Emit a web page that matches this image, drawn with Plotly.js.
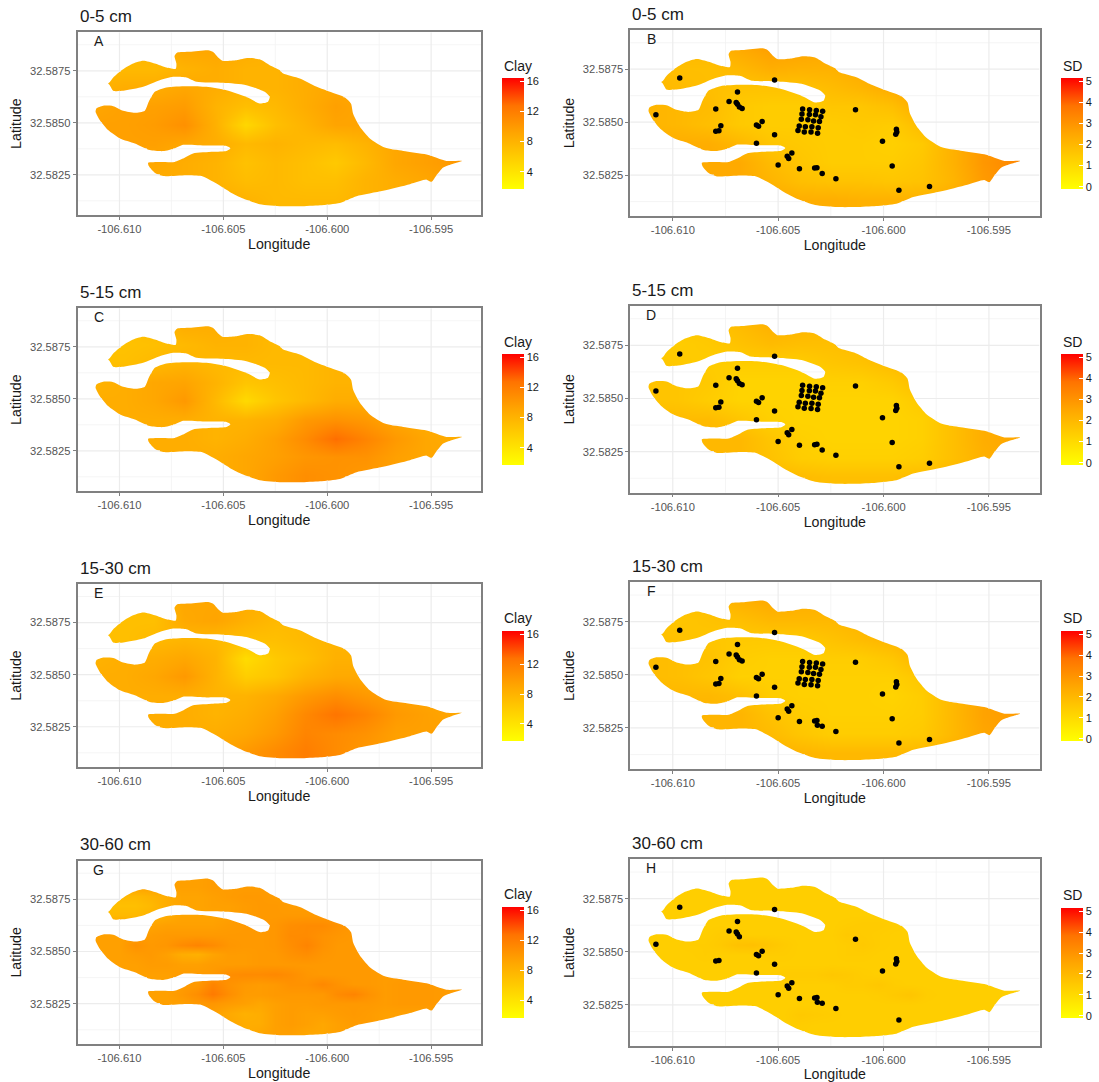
<!DOCTYPE html>
<html>
<head>
<meta charset="utf-8">
<script src="https://cdn.plot.ly/plotly-3.0.1.min.js"></script>
<style>html,body{margin:0;padding:0;background:#fff}</style>
</head>
<body>
<div id="chart" style="width:1099px;height:1082px"></div>
<script>
const xTickVals = [-106.610, -106.605, -106.600, -106.595];
const xTickText = ['-106.610', '-106.605', '-106.600', '-106.595'];
const yTickVals = [32.5825, 32.5850, 32.5875];
const yTickText = ['32.5825', '32.5850', '32.5875'];
const xMinor = [-106.6075, -106.6025, -106.5975];
const yMinor = [32.58125, 32.58375, 32.58625, 32.58875];
const xRange = [-106.61202, -106.5926];
const yRange = [32.58057, 32.58935];

const outlineLon = [-106.61055,-106.61030,-106.60990,-106.60942,-106.60886,-106.60830,-106.60774,-106.60729,-106.60726,-106.60735,-106.60723,-106.60662,-106.60573,-106.60549,-106.60525,-106.60504,-106.60437,-106.60381,-106.60325,-106.60277,-106.60228,-106.60212,-106.60132,-106.60067,-106.59987,-106.59915,-106.59886,-106.59875,-106.59843,-106.59795,-106.59723,-106.59634,-106.59522,-106.59426,-106.59352,-106.59402,-106.59442,-106.59474,-106.59498,-106.59522,-106.59602,-106.59731,-106.59859,-106.59939,-106.60035,-106.60132,-106.60220,-106.60325,-106.60405,-106.60469,-106.60533,-106.60605,-106.60678,-106.60790,-106.60830,-106.60859,-106.60862,-106.60806,-106.60734,-106.60694,-106.60646,-106.60549,-106.60485,-106.60466,-106.60485,-106.60581,-106.60694,-106.60734,-106.60790,-106.60854,-106.60926,-106.60998,-106.61055,-106.61095,-106.61115,-106.61111,-106.61079,-106.61030,-106.60982,-106.60926,-106.60878,-106.60859,-106.60830,-106.60774,-106.60678,-106.60581,-106.60485,-106.60389,-106.60325,-106.60285,-106.60277,-106.60301,-106.60389,-106.60501,-106.60629,-106.60678,-106.60742,-106.60806,-106.60886,-106.60982,-106.61030];
const outlineLat = [32.58689,32.58718,32.58753,32.58782,32.58798,32.58785,32.58766,32.58760,32.58785,32.58821,32.58837,32.58841,32.58849,32.58840,32.58814,32.58798,32.58801,32.58811,32.58805,32.58777,32.58753,32.58737,32.58713,32.58681,32.58649,32.58622,32.58593,32.58542,32.58481,32.58425,32.58381,32.58365,32.58348,32.58317,32.58317,32.58301,32.58285,32.58248,32.58216,32.58227,32.58205,32.58173,32.58147,32.58115,32.58104,32.58099,32.58099,32.58109,32.58136,32.58168,32.58208,32.58244,32.58248,32.58244,32.58260,32.58292,32.58308,32.58312,32.58312,32.58328,32.58353,32.58361,32.58365,32.58378,32.58389,32.58391,32.58394,32.58377,32.58364,32.58369,32.58401,32.58425,32.58465,32.58513,32.58553,32.58569,32.58582,32.58580,32.58558,32.58548,32.58558,32.58601,32.58649,32.58670,32.58676,32.58673,32.58657,32.58625,32.58593,32.58601,32.58625,32.58649,32.58681,32.58692,32.58697,32.58718,32.58721,32.58705,32.58673,32.58654,32.58654];

const coarseLon = [-106.6112,-106.60975,-106.6083,-106.60685,-106.6054,-106.60395,-106.6025,-106.60105,-106.5996,-106.59815,-106.5967,-106.59525,-106.5938];
const coarseLat = [32.5813,32.5822,32.5831,32.5840,32.5849,32.5858,32.5867,32.5876,32.5885];
const fineLon = [-106.6115,-106.61075,-106.6100,-106.60925,-106.6085,-106.60775,-106.6070,-106.60625,-106.6055,-106.60475,-106.6040,-106.60325,-106.6025,-106.60175,-106.6010,-106.60025,-106.5995,-106.59875,-106.5980,-106.59725,-106.5965,-106.59575,-106.5950,-106.59425,-106.5935];
const fineLat = [32.5811,32.58157,32.58204,32.58251,32.58298,32.58345,32.58392,32.58439,32.58486,32.58533,32.5858,32.58627,32.58674,32.58721,32.58768,32.58815,32.58862];

const clayA = [
[8.5,8.5,8.5,8.5,8.5,8,7.5,7.5,7.5,8,8.5,9,9],
[8.5,8.5,8.5,8.5,8,7.2,7.5,7,7,8,8.5,9,9.5],
[9,9,9,8.5,8,6.8,7.5,7,6.2,7.5,9,9.5,10],
[9.5,9.5,9.5,9,8.5,7.5,8,7.5,7.2,8,9,9.5,10],
[9.5,9.5,9.8,10.6,8.2,5.0,7,8,9.2,9.2,9,9,9],
[9,9.5,9.5,9.8,8,7,7.5,8.5,9.5,9,9,9,9],
[8,8.5,8.5,9,8.5,8,8,8.5,9,9,9,9,9],
[7.5,7.5,7.5,8,8.5,8,8,8.5,8.5,8.5,8.5,8.5,8.5],
[7.5,7.5,8,9,9,8.5,8,8.5,8.5,8.5,8.5,8.5,8.5]];
const clayC = [
[8.5,8.5,8.5,8.5,8.5,9,10,10.8,10.5,10,9.5,9,9],
[8.5,8.5,8.5,8.5,8.5,9,9.5,10.2,10.5,10.5,9.5,9,9],
[8.5,8.5,8.5,8.5,8,8.5,9.5,11,13,11.5,10,9,8.5],
[8.5,8.5,8.5,8.5,8,8,8.5,10,10.5,10,9,8.5,8.5],
[8.5,8.5,9,10,7.5,4.8,6.5,7.5,8.5,8.5,8.5,8.5,8.5],
[8,8.5,9,9.2,8,6.5,7,7.5,8,8,8,8,8],
[7,7,7.5,8,7.5,7.5,7.5,7.5,8,8,8,8,8],
[6.8,6.8,7,7.5,8,8,7.5,7.5,7.5,7.5,7.5,7.5,7.5],
[7,7,7.5,8.5,8.5,8,7.5,7.5,7.5,7.5,7.5,7.5,7.5]];
const clayE = [
[8.5,8.5,8.5,8.5,9,10,11,12,11,10,9.5,9,9],
[8.5,8.5,8.5,8.5,8.5,9,10,11.5,11,10.5,9.5,9.5,9.5],
[8.5,8.5,8.5,8.5,8,8.5,9.5,11.2,12.6,11.5,10,9.5,9],
[8.5,8.5,8.5,8.5,8,8,8.8,10,10.8,10,9.5,9,9],
[8.5,8.5,9,10,8,5.8,6.5,8,8.8,8.8,8.8,8.8,8.8],
[8,8.5,8.5,9,8,4.6,6.2,7,8.2,8.2,8.2,8.2,8.2],
[7,7,7.5,7.8,7.5,7,7,7.5,8,8,8,8,8],
[7,7,7,8.8,9.2,8.2,7.5,7.5,7.5,7.5,7.5,7.5,7.5],
[7,7,7.5,9,9,8.5,8,8,8,8,8,8,8]];
const sdB = [
[2.5,2.5,2.5,2.5,2.4,2.3,2.3,2.2,2.2,2.2,2.4,2.8,3.1],
[2.4,2.4,2.4,2.4,2.1,1.8,1.7,1.7,1.6,1.7,2.1,2.8,3.2],
[2.4,2.4,2.4,2.4,1.9,1.6,1.4,1.4,1.4,1.6,2.2,2.9,3.3],
[2.3,2.3,2.3,2.0,1.6,1.5,1.4,1.4,1.3,1.5,2.2,2.9,3.2],
[2.1,2.0,1.8,1.5,1.4,1.4,1.4,1.5,1.4,1.9,2.4,2.8,3.0],
[2.1,2.0,1.9,1.5,1.4,1.4,1.6,1.6,1.8,2.4,2.6,2.7,2.7],
[2.0,1.9,1.8,1.7,1.7,1.7,1.9,2.1,2.4,2.7,2.7,2.7,2.7],
[1.9,1.8,1.8,2.0,2.3,2.2,2.2,2.4,2.6,2.7,2.7,2.7,2.7],
[2.0,2.0,2.0,2.4,2.7,2.6,2.4,2.5,2.6,2.7,2.7,2.7,2.7]];
const sdD = [
[2.1,2.1,2.1,2.1,2.0,1.9,1.8,1.8,1.8,1.9,2.1,2.3,2.5],
[2.0,2.0,2.0,2.0,1.7,1.4,1.3,1.3,1.3,1.4,1.8,2.2,2.5],
[2.0,2.0,2.0,2.0,1.6,1.3,1.2,1.2,1.2,1.3,1.8,2.3,2.5],
[1.9,1.9,1.9,1.6,1.3,1.2,1.2,1.2,1.2,1.3,1.8,2.3,2.4],
[1.7,1.6,1.4,1.2,1.2,1.2,1.2,1.2,1.2,1.5,2.0,2.2,2.3],
[1.7,1.6,1.5,1.2,1.2,1.2,1.3,1.3,1.5,1.9,2.1,2.1,2.1],
[1.6,1.5,1.4,1.4,1.4,1.4,1.6,1.7,1.9,2.1,2.1,2.1,2.1],
[1.5,1.4,1.5,1.7,1.9,1.8,1.8,1.9,2.1,2.1,2.1,2.1,2.1],
[1.6,1.6,1.6,1.9,2.2,2.1,1.9,2.0,2.1,2.1,2.1,2.1,2.1]];
const sdF = [
[2.2,2.2,2.2,2.2,2.2,2.1,2.0,2.0,2.0,2.0,2.3,2.5,2.7],
[2.1,2.1,2.1,2.1,1.9,1.6,1.4,1.4,1.4,1.5,2.0,2.5,2.7],
[2.1,2.1,2.1,2.1,1.7,1.4,1.3,1.3,1.3,1.4,2.0,2.6,2.8],
[2.0,2.0,2.0,1.8,1.4,1.3,1.3,1.3,1.2,1.4,2.0,2.6,2.8],
[1.9,1.8,1.6,1.3,1.3,1.3,1.3,1.3,1.3,1.6,2.2,2.5,2.6],
[1.9,1.8,1.7,1.4,1.3,1.3,1.4,1.4,1.6,2.1,2.3,2.3,2.3],
[1.8,1.7,1.6,1.5,1.5,1.5,1.7,1.9,2.1,2.3,2.3,2.3,2.3],
[1.7,1.6,1.7,1.8,2.0,2.0,2.0,2.1,2.3,2.3,2.3,2.3,2.3],
[1.8,1.8,1.8,2.2,2.4,2.3,2.2,2.2,2.3,2.3,2.3,2.3,2.3]];
const clayG = [
[9.5,9.5,9.5,9.5,9.5,9.5,9.5,9.5,9.5,9,8.5,9,9.5,9.5,9,9,9.5,9.5,9.5,9.5,9.5,9.5,9.5,9.5,9.5],
[9.5,9.5,9.5,9.5,9.5,9.5,9.5,9.5,9.5,9,8.5,8.5,9.5,9.8,9.5,9,9.5,9.8,9.8,9.5,9.5,9.5,9.5,9.5,9.5],
[9.5,9.5,9.5,9.5,9.5,9.5,9.5,9.5,9.5,8.8,8.2,8.5,9.5,9.8,9.5,9.5,9.8,10,9.8,9.5,9.5,9.5,9.5,9.5,9.5],
[9.5,9.5,9.5,9.5,9.5,9.5,9.5,10,10.2,9.8,9.5,9,9.5,9.8,9.8,10,10,10,10,9.8,10,10,10,9.8,9.8],
[9.5,9.5,9.5,9.5,9.5,9.5,10,10.8,12.2,10.8,9.8,9.8,10,10,10,10,11,11.5,10.5,9.8,10,10,10,9.8,9.8],
[9.5,9.5,9.5,9.5,9.5,9.5,9.8,10,11.5,10.5,10,9.8,10,10.5,10.5,11.2,10.5,10,10,9.8,10,10,10,9.8,9.8],
[9.5,9.5,9.5,9.5,9.5,9.5,9.8,9.8,10,10.8,11,11,11.2,10.8,10.2,10,10,10,10,9.8,9.8,9.8,9.8,9.8,9.8],
[9.5,9.5,9.5,9.5,9.8,9.8,9.5,9.5,9.8,9.8,9.8,10,10,10,10,10,10,10,10,9.8,9.5,9.5,9.5,9.5,9.5],
[9.5,9.5,9.5,9.8,10,9.5,8.5,8.2,9.2,9.8,9.8,10,10,10.5,10.8,10.2,10,10,9.8,9.5,9.5,9.5,9.5,9.5,9.5],
[9.5,9.5,9.5,10.5,10,10.2,11,11.5,11,10.2,10,10,10.2,10.8,11.5,10.5,10,10,9.8,9.5,9.5,9.5,9.5,9.5,9.5],
[9.5,9.5,9.5,9.8,9.8,10,10,10,10,10,10,10,10.2,11,11,10.5,10.2,10,9.8,9.5,9.5,9.5,9.5,9.5,9.5],
[9.5,9.5,9.5,9,9.2,9.5,9.5,9.5,9.5,9.8,10,10,10.2,10.8,11,11,10.5,10,9.8,9.5,9.5,9.5,9.5,9.5,9.5],
[7.5,7.5,7.5,7.5,8,8.5,9.2,9.2,9.2,9.5,9.8,10,10,10,10,10,10,10,9.8,9.5,9.5,9.5,9.5,9.5,9.5],
[7,7,7,7,7.5,8.5,9.2,9.2,9.5,9.5,9.8,10,10,9.8,9.8,9.8,9.8,9.8,9.5,9.5,9.5,9.5,9.5,9.5,9.5],
[7.5,7.5,7.5,7.5,8,8.5,9.2,9.2,9.5,9.8,10,10,9.8,9.8,9.8,9.8,9.8,9.8,9.5,9.5,9.5,9.5,9.5,9.5,9.5],
[9.5,9.5,9.5,9.5,9.5,9.5,9.5,9.5,9.8,9.8,9.8,9.8,9.8,9.8,9.8,9.8,9.8,9.8,9.5,9.5,9.5,9.5,9.5,9.5,9.5],
[9.5,9.5,9.5,9.5,9.5,9.5,9.5,9.5,9.8,9.8,9.8,9.8,9.8,9.8,9.8,9.8,9.8,9.8,9.5,9.5,9.5,9.5,9.5,9.5,9.5]];
const sdH = [
[1.35,1.35,1.35,1.35,1.35,1.35,1.35,1.35,1.35,1.35,1.35,1.35,1.35,1.35,1.35,1.35,1.35,1.35,1.35,1.35,1.35,1.35,1.35,1.35,1.35],
[1.35,1.35,1.35,1.35,1.35,1.35,1.35,1.35,1.35,1.35,1.4,1.35,1.35,1.35,1.35,1.35,1.35,1.35,1.35,1.35,1.35,1.35,1.35,1.35,1.35],
[1.35,1.35,1.35,1.35,1.35,1.35,1.35,1.35,1.35,1.35,1.5,1.45,1.4,1.35,1.35,1.35,1.35,1.35,1.35,1.35,1.35,1.35,1.35,1.35,1.35],
[1.35,1.35,1.35,1.35,1.35,1.35,1.35,1.35,1.35,1.35,1.35,1.35,1.35,1.35,1.35,1.35,1.35,1.35,1.35,1.35,1.35,1.35,1.35,1.35,1.35],
[1.35,1.35,1.35,1.35,1.35,1.35,1.35,1.35,1.35,1.35,1.35,1.35,1.35,1.35,1.35,1.4,1.5,1.6,1.4,1.35,1.35,1.35,1.35,1.35,1.35],
[1.35,1.35,1.35,1.35,1.35,1.35,1.35,1.35,1.35,1.35,1.35,1.35,1.35,1.45,1.45,1.55,1.4,1.35,1.35,1.35,1.35,1.35,1.35,1.35,1.35],
[1.35,1.35,1.35,1.35,1.35,1.35,1.35,1.35,1.35,1.45,1.45,1.45,1.55,1.5,1.4,1.35,1.35,1.35,1.35,1.35,1.35,1.35,1.35,1.35,1.35],
[1.35,1.35,1.35,1.35,1.35,1.35,1.35,1.35,1.35,1.35,1.35,1.35,1.35,1.35,1.35,1.35,1.35,1.35,1.35,1.35,1.35,1.35,1.35,1.35,1.35],
[1.35,1.35,1.35,1.35,1.4,1.35,1.35,1.35,1.4,1.4,1.35,1.35,1.35,1.4,1.4,1.35,1.35,1.35,1.35,1.35,1.35,1.35,1.35,1.35,1.35],
[1.35,1.35,1.35,1.4,1.4,1.5,1.7,1.75,1.6,1.45,1.35,1.35,1.35,1.4,1.5,1.4,1.35,1.35,1.35,1.35,1.35,1.35,1.35,1.35,1.35],
[1.35,1.35,1.35,1.35,1.35,1.45,1.4,1.35,1.35,1.35,1.35,1.35,1.35,1.5,1.45,1.4,1.35,1.35,1.35,1.35,1.35,1.35,1.35,1.35,1.35],
[1.35,1.35,1.35,1.35,1.35,1.35,1.35,1.35,1.35,1.35,1.35,1.35,1.35,1.4,1.45,1.45,1.4,1.35,1.35,1.35,1.35,1.35,1.35,1.35,1.35],
[1.35,1.35,1.35,1.35,1.35,1.35,1.35,1.35,1.35,1.35,1.35,1.35,1.35,1.35,1.35,1.35,1.35,1.35,1.35,1.35,1.35,1.35,1.35,1.35,1.35],
[1.35,1.35,1.35,1.35,1.35,1.35,1.35,1.35,1.35,1.35,1.35,1.35,1.35,1.35,1.35,1.35,1.35,1.35,1.35,1.35,1.35,1.35,1.35,1.35,1.35],
[1.35,1.35,1.35,1.35,1.35,1.35,1.35,1.35,1.35,1.35,1.35,1.35,1.35,1.35,1.35,1.35,1.35,1.35,1.35,1.35,1.35,1.35,1.35,1.35,1.35],
[1.35,1.35,1.35,1.35,1.35,1.35,1.35,1.35,1.35,1.35,1.35,1.35,1.35,1.35,1.35,1.35,1.35,1.35,1.35,1.35,1.35,1.35,1.35,1.35,1.35],
[1.35,1.35,1.35,1.35,1.35,1.35,1.35,1.35,1.35,1.35,1.35,1.35,1.35,1.35,1.35,1.35,1.35,1.35,1.35,1.35,1.35,1.35,1.35,1.35,1.35]];

const siteLon = [-106.6108,-106.60967,-106.60517,-106.60693,-106.60733,-106.60699,-106.60693,-106.60684,-106.60796,-106.60781,-106.60603,-106.60593,-106.60576,-106.60517,-106.60603,-106.60435,-106.60457,-106.6045,-106.605,-106.60399,-106.60327,-106.60316,-106.60291,-106.60226,-106.60133,-106.59939,-106.59937,-106.59942,-106.60005,-106.59927];
const siteLat = [32.58535,32.58709,32.58699,32.58642,32.58598,32.58593,32.58584,32.58571,32.58457,32.58459,32.58487,32.58481,32.58503,32.58441,32.584,32.58354,32.58339,32.58329,32.58298,32.5828,32.58283,32.58285,32.58258,32.58233,32.58559,32.58467,32.58454,32.58443,32.5841,32.58179];
const extraLon = [-106.60796,-106.60671,-106.60772,-106.59959,-106.59782];
const extraLat = [32.58562,32.58565,32.58483,32.58293,32.58196];
const clusterLon = [-106.60384,-106.60351,-106.60319,-106.60289,-106.60387,-106.60352,-106.60323,-106.60297,-106.6039,-106.60359,-106.60332,-106.60304,-106.604,-106.60371,-106.6034,-106.6031,-106.60406,-106.60376,-106.60344,-106.60313];
const clusterLat = [32.58562,32.58558,32.58555,32.58551,32.58538,32.58536,32.58535,32.58525,32.58514,32.58511,32.58506,32.58503,32.58482,32.58478,32.58478,32.58473,32.58461,32.58454,32.58453,32.58448];
const lateLon = [-106.60314];
const lateLat = [32.58263];

const clayTicks = [4, 8, 12, 16];
const sdTicks = [0, 1, 2, 3, 4, 5];
const heat = [[0,'#FFFF00'],[0.25,'#FFD300'],[0.5,'#FFA600'],[0.75,'#FF7300'],[1,'#FF0000']];

// panel frames in page pixels: l,r plot edges, t,b plot edges, cbT/cbB colour-bar edges
const W = 1099, H = 1082;
const LEFT = {l:77.5, r:481, cbX:502.3};
const RIGHT = {l:630.2, r:1039.5, cbX:1060.9};
const panels = [
 {tag:'A', depth:'0-5 cm',   col:LEFT,  t:32.3,  b:215,   cbT:78.3,  cbB:189,    z:clayA, gx:coarseLon, gy:coarseLat},
 {tag:'B', depth:'0-5 cm',   col:RIGHT, t:30,    b:216,   cbT:78.3,  cbB:189,    z:sdB,   gx:coarseLon, gy:coarseLat, pts:[[siteLon,siteLat],[extraLon,extraLat],[clusterLon,clusterLat]]},
 {tag:'C', depth:'5-15 cm',  col:LEFT,  t:308.3, b:491,   cbT:354.3, cbB:465,    z:clayC, gx:coarseLon, gy:coarseLat},
 {tag:'D', depth:'5-15 cm',  col:RIGHT, t:306,   b:492.7, cbT:354.3, cbB:465,    z:sdD,   gx:coarseLon, gy:coarseLat, pts:[[siteLon,siteLat],[extraLon,extraLat],[clusterLon,clusterLat]]},
 {tag:'E', depth:'15-30 cm', col:LEFT,  t:584,   b:767,   cbT:631,   cbB:741,    z:clayE, gx:coarseLon, gy:coarseLat},
 {tag:'F', depth:'15-30 cm', col:RIGHT, t:582.3, b:769,   cbT:631,   cbB:741,    z:sdF,   gx:coarseLon, gy:coarseLat, pts:[[siteLon,siteLat],[extraLon,extraLat],[clusterLon,clusterLat],[lateLon,lateLat]]},
 {tag:'G', depth:'30-60 cm', col:LEFT,  t:860.7, b:1044,  cbT:907,   cbB:1017.7, z:clayG, gx:fineLon,   gy:fineLat},
 {tag:'H', depth:'30-60 cm', col:RIGHT, t:859.3, b:1046,  cbT:908,   cbB:1018,   z:sdH,   gx:fineLon,   gy:fineLat, pts:[[siteLon,siteLat],[lateLon,lateLat]]}
];

const FONT = '"Liberation Sans", Arial, sans-serif';
const INK = '#1a1a1a', TICK = '#555555', FRAME = '#808080';

// Parts of a grid line that lie outside the survey outline (inside it the map covers the grid).
function outsideSegments(value, isVertical, lo, hi) {
  const a = isVertical ? outlineLon : outlineLat, b = isVertical ? outlineLat : outlineLon;
  const hits = [];
  for (let i = 0; i < a.length; i++) {
    const j = (i + 1) % a.length;
    if ((a[i] <= value) !== (a[j] <= value)) hits.push(b[i] + (value - a[i]) / (a[j] - a[i]) * (b[j] - b[i]));
  }
  hits.sort((p, q) => p - q);
  const stops = [lo].concat(hits, [hi]), out = [];
  for (let k = 0; k + 1 < stops.length; k += 2) out.push([stops[k], stops[k + 1]]);
  return out;
}
function gridTrace(xs, ys, width, color, xa, ya) {
  const X = [], Y = [];
  xs.forEach(v => outsideSegments(v, true, yRange[0], yRange[1]).forEach(s => { X.push(v, v, null); Y.push(s[0], s[1], null); }));
  ys.forEach(v => outsideSegments(v, false, xRange[0], xRange[1]).forEach(s => { X.push(s[0], s[1], null); Y.push(v, v, null); }));
  return {type:'scatter', mode:'lines', x:X, y:Y, xaxis:xa, yaxis:ya, line:{color, width}, hoverinfo:'skip', showlegend:false};
}

const traces = [], annotations = [], layout = {
  width:W, height:H, margin:{l:0,r:0,t:0,b:0}, paper_bgcolor:'#fff', plot_bgcolor:'#fff',
  showlegend:false, font:{family:FONT, color:INK}
};

// white surround, reaching well past the axes, with the survey outline cut out of it
const farX = [xRange[0] - 0.01, xRange[1] + 0.01], farY = [yRange[0] - 0.01, yRange[1] + 0.01];
const maskX = [farX[0], farX[1], farX[1], farX[0], farX[0]].concat(outlineLon, [outlineLon[0], farX[0]]);
const maskY = [farY[0], farY[0], farY[1], farY[1], outlineLat[0]].concat(outlineLat, [outlineLat[0], outlineLat[0]]);

panels.forEach((p, i) => {
  const n = i + 1, xa = 'x' + n, ya = 'y' + n, isClay = i % 2 === 0;
  const cb = p.col;
  traces.push({
    type:'heatmap', x:p.gx, y:p.gy, z:p.z, xaxis:xa, yaxis:ya, zsmooth:'best', hoverinfo:'skip',
    colorscale:heat, zmin:isClay ? 1.7 : -0.11, zmax:isClay ? 16.45 : 5.16,
    colorbar:{
      x:cb.cbX / W, xref:'paper', xanchor:'left', xpad:0,
      y:1 - p.cbB / H, yref:'paper', yanchor:'bottom', ypad:0,
      len:p.cbB - p.cbT, lenmode:'pixels', thickness:22, thicknessmode:'pixels',
      outlinewidth:0, borderwidth:0, tickmode:'array',
      tickvals:isClay ? clayTicks : sdTicks, ticktext:(isClay ? clayTicks : sdTicks).map(String),
      ticks:'inside', ticklen:4, tickcolor:'#ffffff', tickwidth:0.7,
      tickfont:{family:FONT, size:11, color:INK}
    }
  });
  traces.push({type:'scatter', mode:'lines', x:maskX, y:maskY, xaxis:xa, yaxis:ya, fill:'toself', fillcolor:'#ffffff', line:{width:0, color:'#ffffff', shape:'spline', smoothing:0.6, simplify:false}, hoverinfo:'skip', showlegend:false});
  traces.push(gridTrace(xMinor, yMinor, 0.8, '#f3f3f3', xa, ya));
  traces.push(gridTrace(xTickVals, yTickVals, 1.2, '#ececec', xa, ya));
  (p.pts || []).forEach(g => traces.push({type:'scatter', mode:'markers', x:g[0], y:g[1], xaxis:xa, yaxis:ya, marker:{color:'#000000', size:5.5}, hoverinfo:'skip', showlegend:false}));

  const suffix = n === 1 ? '' : String(n);
  layout['xaxis' + suffix] = {
    domain:[cb.l / W, cb.r / W], range:xRange, anchor:ya, showgrid:false, zeroline:false,
    showline:true, mirror:true, linecolor:FRAME, linewidth:1.5, ticks:'outside', ticklen:3, tickwidth:1, tickcolor:FRAME,
    tickmode:'array', tickvals:xTickVals, ticktext:xTickText, tickfont:{family:FONT, size:11.2, color:TICK},
    title:{text:'Longitude', font:{family:FONT, size:14.2, color:INK}, standoff:5}
  };
  layout['yaxis' + suffix] = {
    domain:[1 - p.b / H, 1 - p.t / H], range:yRange, anchor:xa, showgrid:false, zeroline:false,
    showline:true, mirror:true, linecolor:FRAME, linewidth:1.5, ticks:'outside', ticklen:3, tickwidth:1, tickcolor:FRAME,
    tickmode:'array', tickvals:yTickVals, ticktext:yTickText, tickfont:{family:FONT, size:11.2, color:TICK},
    title:{text:'Latitude', font:{family:FONT, size:14.2, color:INK}, standoff:5}
  };
  annotations.push({xref:'paper', yref:'paper', x:cb.l / W, y:1 - (p.t - 16) / H, xanchor:'left', yanchor:'middle', showarrow:false, text:p.depth, font:{family:FONT, size:17, color:INK}});
  annotations.push({xref:'paper', yref:'paper', x:(cb.l + 21) / W, y:1 - (p.t + 9) / H, xanchor:'center', yanchor:'middle', showarrow:false, text:p.tag, font:{family:FONT, size:14, color:INK}});
  annotations.push({xref:'paper', yref:'paper', x:cb.cbX / W, y:1 - (p.cbT - 12.6) / H, xanchor:'left', yanchor:'middle', showarrow:false, text:isClay ? 'Clay' : 'SD', font:{family:FONT, size:14, color:INK}});
});
layout.annotations = annotations;

Plotly.newPlot('chart', traces, layout, {displayModeBar:false, responsive:false});
</script>
</body>
</html>
